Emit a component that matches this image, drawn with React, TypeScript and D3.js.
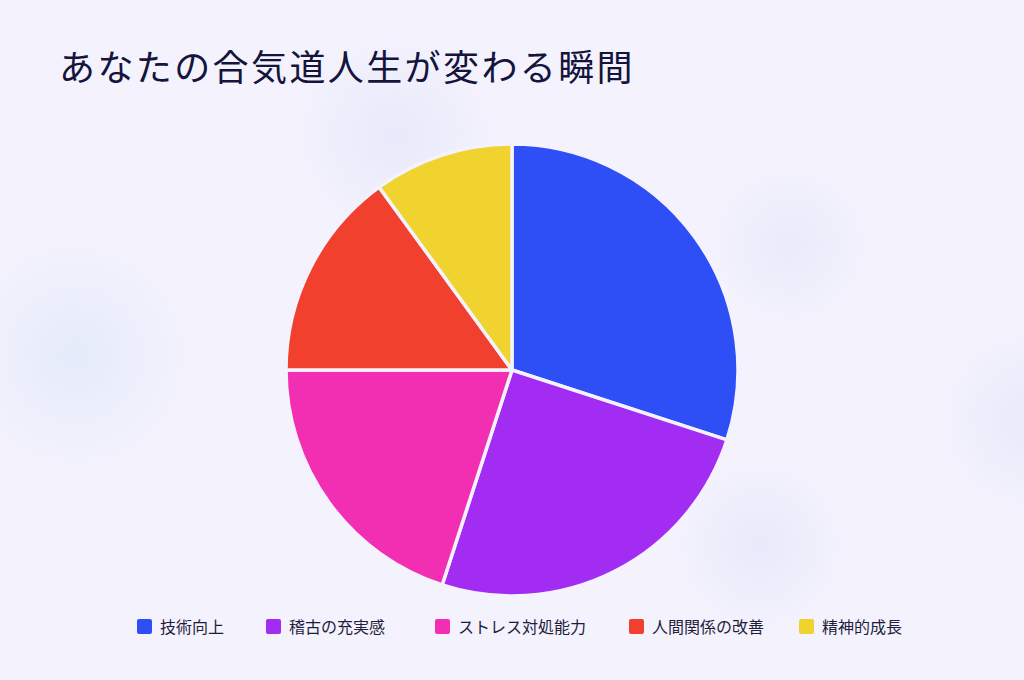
import React, { useEffect, useRef } from 'react';
import * as d3 from 'd3';

const categories = ['技術向上', '稽古の充実感', 'ストレス対処能力', '人間関係の改善', '精神的成長'];
const values = [30, 25, 20, 15, 10];
const colors = ['#2D4FF5', '#A22CF2', '#F22EB2', '#F2402E', '#F0D32E'];
const title = 'あなたの合気道人生が変わる瞬間';

// soft background blobs: [cx, cy, r, color]
const blobs: [number, number, number, string][] = [
    [75, 355, 115, '#E5EBFA'],
    [395, 135, 100, '#E8E9FA'],
    [790, 245, 80, '#E9EBFA'],
    [760, 545, 85, '#E8E9FA'],
    [1030, 420, 90, '#E8E9FA'],
];

const W = 1024;
const H = 680;
const FONT = '"Noto Sans CJK JP", "Noto Sans", sans-serif';

const App: React.FC = () => {
    const svgRef = useRef<SVGSVGElement | null>(null);

    useEffect(() => {
        const svg = d3.select(svgRef.current).attr('width', W).attr('height', H);
        svg.selectAll('*').remove();

        const defs = svg.append('defs');
        blobs.forEach((b, i) => {
            const g = defs.append('radialGradient').attr('id', `blob${i}`);
            g.append('stop').attr('offset', '0%').attr('stop-color', b[3]).attr('stop-opacity', 1);
            g.append('stop').attr('offset', '100%').attr('stop-color', b[3]).attr('stop-opacity', 0);
        });

        svg.append('rect').attr('width', W).attr('height', H).attr('fill', '#F3F2FD');
        svg.append('g')
            .selectAll('circle')
            .data(blobs)
            .enter()
            .append('circle')
            .attr('cx', (d) => d[0])
            .attr('cy', (d) => d[1])
            .attr('r', (d) => d[2])
            .attr('fill', (_, i) => `url(#blob${i})`);

        svg.append('text')
            .attr('x', 59)
            .attr('y', 81)
            .attr('font-family', FONT)
            .attr('font-size', 36)
            .attr('letter-spacing', 2.4)
            .attr('fill', '#14143C')
            .text(title);

        const cx = 512;
        const cy = 370;
        const radius = 226;

        const pie = d3.pie<number>().sort(null).value((d) => d);
        const arc = d3.arc<d3.PieArcDatum<number>>().innerRadius(0).outerRadius(radius);

        svg.append('g')
            .attr('transform', `translate(${cx},${cy})`)
            .selectAll('path')
            .data(pie(values))
            .enter()
            .append('path')
            .attr('d', arc)
            .attr('fill', (_, i) => colors[i])
            .attr('stroke', '#F3F2FD')
            .attr('stroke-width', 3.5)
            .attr('stroke-linejoin', 'round');

        // legend
        const legendX = [137, 266, 435, 629, 799];
        const legend = svg.append('g')
            .selectAll('g')
            .data(categories)
            .enter()
            .append('g')
            .attr('transform', (_, i) => `translate(${legendX[i]},619)`);

        legend.append('rect')
            .attr('width', 15)
            .attr('height', 15)
            .attr('rx', 2)
            .attr('fill', (_, i) => colors[i]);

        legend.append('text')
            .attr('x', 23)
            .attr('y', 14)
            .attr('font-family', FONT)
            .attr('font-size', 16)
            .attr('fill', '#1E1E3C')
            .text((d) => d);
    }, []);

    return <svg ref={svgRef} style={{ display: 'block', position: 'absolute', left: 0, top: 0 }}></svg>;
};

export default App;
